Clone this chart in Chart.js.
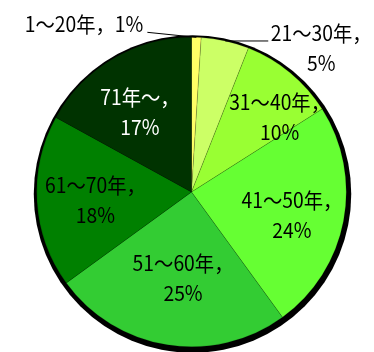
<!DOCTYPE html>
<html>
<head>
<meta charset="utf-8">
<script src="https://cdn.jsdelivr.net/npm/chart.js@4/dist/chart.umd.min.js"></script>
<style>
    html, body { margin: 0; padding: 0; background: #ffffff; }
    #chartYears { display: block; }
</style>
</head>
<body>
<canvas id="chartYears" width="374" height="352"></canvas>
<script>
var categories = ["1～20年", "21～30年", "31～40年", "41～50年", "51～60年", "61～70年", "71年～"];
var shares = [1, 5, 10, 24, 25, 18, 17];
var sliceColors = ["#ffff66", "#ccff66", "#99ff33", "#66ff33", "#33cc33", "#008000", "#003300"];
var textColors = ["#000", "#000", "#000", "#000", "#000", "#000", "#fff"];

// where each label goes: inside at a radius fraction + nudge, or outside with a leader line
var placement = [
    { outside: true, lineDx: -49, lineDy: -5, align: "right", tx: -4, ty: -8, single: true },
    { outside: true, lineDx: 43, lineDy: 0, align: "center", tx: 53, ty: -8 },
    { r: 0.68, dx: 21, dy: 6 },
    { r: 0.68, dx: -3, dy: 3 },
    { r: 0.68, dx: 8, dy: -18 },
    { r: 0.68, dx: 9, dy: 1 },
    { r: 0.68, dx: 2, dy: 11 },
];

var FONT = '21px "Noto Sans CJK JP", "Noto Sans", sans-serif';
var SQUEEZE = 0.92; // narrow the glyphs a little
var LINE_H = 30;

function drawText(ctx, t, x, y) {
    ctx.save();
    ctx.translate(x, y);
    ctx.scale(SQUEEZE, 1);
    ctx.fillText(t, 0, 0);
    ctx.restore();
}

var shadowPlugin = {
    id: "pieShadow",
    beforeDatasetsDraw: function (chart) {
        var arc = chart.getDatasetMeta(0).data[0];
        var ctx = chart.ctx;
        ctx.save();
        ctx.fillStyle = "#000";
        ctx.beginPath();
        ctx.arc(arc.x + 1, arc.y + 2, arc.outerRadius + 4, 0, Math.PI * 2);
        ctx.fill();
        ctx.restore();
    },
};

var labelPlugin = {
    id: "sliceLabels",
    afterDatasetsDraw: function (chart) {
        var ctx = chart.ctx;
        var meta = chart.getDatasetMeta(0);
        ctx.save();
        ctx.font = FONT;
        ctx.textBaseline = "middle";
        meta.data.forEach(function (arc, i) {
            var p = placement[i];
            var mid = (arc.startAngle + arc.endAngle) / 2;
            var lines = p.single
                ? [categories[i] + "，" + shares[i] + "%"]
                : [categories[i] + "，", shares[i] + "%"];
            ctx.fillStyle = textColors[i];
            if (p.outside) {
                var ex = arc.x + arc.outerRadius * Math.cos(mid);
                var ey = arc.y + arc.outerRadius * Math.sin(mid);
                var lx = ex + p.lineDx;
                var ly = ey + p.lineDy;
                ctx.strokeStyle = "#000";
                ctx.lineWidth = 1;
                ctx.beginPath();
                ctx.moveTo(ex, ey);
                ctx.lineTo(lx, ly);
                ctx.stroke();
                ctx.textAlign = p.align;
                lines.forEach(function (t, k) {
                    drawText(ctx, t, lx + p.tx, ly + p.ty + k * LINE_H);
                });
            } else {
                var cx = arc.x + arc.outerRadius * p.r * Math.cos(mid) + p.dx;
                var cy = arc.y + arc.outerRadius * p.r * Math.sin(mid) + p.dy;
                ctx.textAlign = "center";
                lines.forEach(function (t, k) {
                    drawText(ctx, t, cx, cy + (k - (lines.length - 1) / 2) * LINE_H);
                });
            }
        });
        ctx.restore();
    },
};

var ctx = document.getElementById("chartYears").getContext("2d");

new Chart(ctx, {
    type: "pie",
    data: {
        labels: categories,
        datasets: [
            {
                data: shares,
                backgroundColor: sliceColors,
                borderColor: "rgba(0,0,0,0.3)",
                borderWidth: 0.5,
            },
        ],
    },
    options: {
        responsive: false,
        animation: false,
        layout: {
            padding: { top: 37, bottom: 5, left: 36, right: 27 },
        },
        plugins: {
            legend: { display: false },
            tooltip: { enabled: false },
        },
    },
    plugins: [shadowPlugin, labelPlugin],
});
</script>
</body>
</html>
